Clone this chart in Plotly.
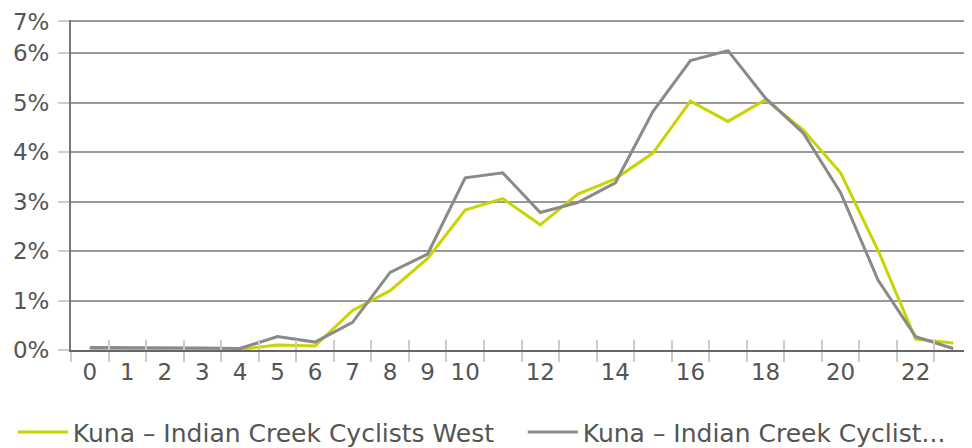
import plotly.graph_objects as go

# Stunde des Tages
hours = list(range(24))

# Anteil am Tagesverkehr (%)
west = [0.03, 0.03, 0.02, 0.02, 0.01, 0.10, 0.08, 0.80, 1.20, 1.85, 2.83, 3.06,
        2.53, 3.15, 3.46, 3.98, 5.03, 4.62, 5.06, 4.45, 3.58, 2.01, 0.22, 0.14]
east = [0.05, 0.05, 0.04, 0.04, 0.03, 0.27, 0.16, 0.56, 1.57, 1.94, 3.48, 3.58,
        2.78, 2.98, 3.38, 4.82, 5.85, 6.05, 5.09, 4.39, 3.18, 1.41, 0.27, 0.03]

names = ["Kuna – Indian Creek Cyclists West", "Kuna – Indian Creek Cyclist..."]
colors = ["#c9d400", "#8a8a8a"]

x_ticks = [0, 1, 2, 3, 4, 5, 6, 7, 8, 9, 10, 12, 14, 16, 18, 20, 22]
y_ticks = [0, 1, 2, 3, 4, 5, 6, 6.64]
y_labels = ["0%", "1%", "2%", "3%", "4%", "5%", "6%", "7%"]
boundaries = [h - 0.5 for h in range(25)]

fig = go.Figure()
for vals, name, col, leg in zip([west, east], names, colors, ["legend", "legend2"]):
    fig.add_trace(go.Scatter(x=hours, y=vals, mode="lines", name=name,
                             legend=leg, line=dict(color=col, width=3)))

# unsichtbare Spur für die zweite x-Achse (Teilstriche nach innen)
fig.add_trace(go.Scatter(x=[0], y=[0], xaxis="x2", mode="lines",
                         showlegend=False, hoverinfo="skip",
                         line=dict(color="rgba(0,0,0,0)")))

leg_style = dict(orientation="h", xref="container", yref="container",
                 y=0.036, xanchor="left", yanchor="middle", itemwidth=50,
                 font=dict(size=25, color="#555555"), bgcolor="rgba(0,0,0,0)")

# Seite hat 8px Rand -> Figur etwas kleiner
fig.update_layout(
    width=964, height=440,
    margin=dict(l=63, r=0, t=12, b=98, autoexpand=False),
    paper_bgcolor="white", plot_bgcolor="white",
    font=dict(family="DejaVu Sans", size=23, color="#555555"),
    xaxis=dict(range=[-0.5, 23.5], tickmode="array", tickvals=x_ticks,
               ticks="", showgrid=False, zeroline=False,
               showline=True, linecolor="#666666", linewidth=2,
               minor=dict(tickmode="array", tickvals=boundaries,
                          ticks="outside", ticklen=10, tickcolor="#cccccc",
                          tickwidth=2, showgrid=False)),
    xaxis2=dict(range=[-0.5, 23.5], overlaying="x", anchor="y",
                tickmode="array", tickvals=boundaries, ticks="inside",
                ticklen=10, tickcolor="#cccccc", tickwidth=2,
                showticklabels=False, showgrid=False, zeroline=False,
                showline=False),
    yaxis=dict(range=[0, 6.67], tickmode="array", tickvals=y_ticks,
               ticktext=y_labels, ticks="outside", ticklen=11,
               tickcolor="#cccccc", tickwidth=2, ticklabelstandoff=4,
               showgrid=True, gridcolor="#9a9a9a", gridwidth=2,
               zeroline=False, showline=True, linecolor="#777777",
               linewidth=2),
    legend=dict(x=0.005, **leg_style),
    legend2=dict(x=0.534, **leg_style),
)

fig.write_html("out.html")
